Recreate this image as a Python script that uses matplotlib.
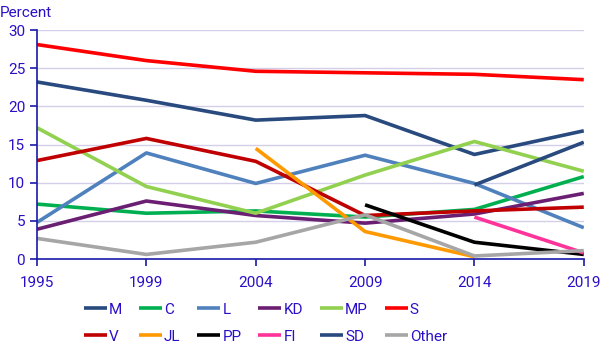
import matplotlib.pyplot as plt

plt.rcParams['font.family'] = ['Roboto', 'DejaVu Sans']

years = ['1995', '1999', '2004', '2009', '2014', '2019']

m = [23.2, 20.8, 18.2, 18.8, 13.7, 16.8]
c = [7.2, 6.0, 6.3, 5.5, 6.5, 10.8]
l = [4.8, 13.9, 9.9, 13.6, 9.9, 4.1]
kd = [3.9, 7.6, 5.7, 4.7, 5.9, 8.6]
mp = [17.2, 9.5, 6.0, 11.0, 15.4, 11.5]
s = [28.1, 26.0, 24.6, 24.4, 24.2, 23.5]
v = [12.9, 15.8, 12.8, 5.7, 6.3, 6.8]
jl = [None, None, 14.5, 3.6, 0.3, None]
pp = [None, None, None, 7.1, 2.2, 0.6]
fi = [None, None, None, None, 5.5, 0.8]
sd = [None, None, None, None, 9.7, 15.3]
other = [2.7, 0.6, 2.2, 5.8, 0.4, 1.1]

series = [
    ('M', m, '#284a7e'),
    ('C', c, '#00b050'),
    ('L', l, '#4f81bd'),
    ('KD', kd, '#6a1f72'),
    ('MP', mp, '#92d050'),
    ('S', s, '#ff0000'),
    ('V', v, '#c00000'),
    ('JL', jl, '#ff9900'),
    ('PP', pp, '#000000'),
    ('FI', fi, '#ff3399'),
    ('SD', sd, '#284a7e'),
    ('Other', other, '#a6a6a6'),
]

txt = '#2a0fc8'
axc = '#1a1aa8'

fig = plt.figure(figsize=(6.1, 3.58), dpi=100)
ax = fig.add_axes([0.0607, 0.2765, 0.8963, 0.6395])

xs = range(len(years))
handles = []
for name, vals, col in series:
    px = [x for x, y in zip(xs, vals) if y is not None]
    py = [y for y in vals if y is not None]
    h, = ax.plot(px, py, color=col, lw=2.6, label=name, solid_capstyle='butt')
    handles.append(h)

ax.set_xlim(0, 5)
ax.set_ylim(0, 30)
ax.set_xticks(list(xs))
ax.set_xticklabels(years)
ax.set_yticks(range(0, 31, 5))
ax.grid(axis='y', color='#d3cfea', lw=1)
ax.set_axisbelow(True)

for side in ['top', 'right']:
    ax.spines[side].set_visible(False)
for side in ['left', 'bottom']:
    ax.spines[side].set_color(axc)
    ax.spines[side].set_linewidth(1.2)
ax.tick_params(colors=axc, labelcolor=txt, labelsize=11, length=5, width=1.2)
ax.tick_params(axis='x', pad=7)

fig.text(0.0, 0.965, 'Percent', color=txt, fontsize=11, va='center')

# legend fills column-wise, so interleave the two rows
order = []
for i in range(6):
    order += [handles[i], handles[i + 6]]
fig.legend(handles=order, loc='center', bbox_to_anchor=(0.435, 0.097), ncol=6,
           frameon=False, fontsize=11, handlelength=1.5, handletextpad=0.15,
           columnspacing=1.1, labelcolor=txt, labelspacing=0.85)

fig.savefig('out.png')
